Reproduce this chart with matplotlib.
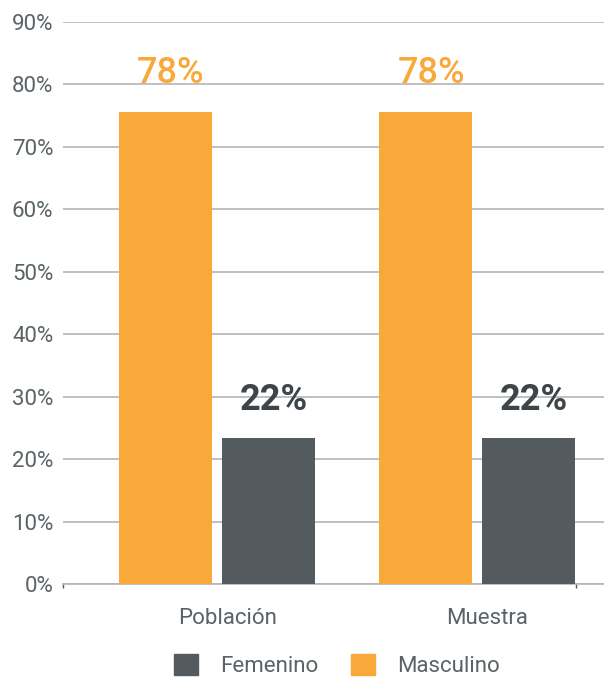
import numpy as np
import matplotlib
matplotlib.use("Agg")
import matplotlib.pyplot as plt
from matplotlib.patches import Patch

# --- Datos ---
categorias = ["Población", "Muestra"]
masculino = [75.6, 75.6]   # altura de barra
femenino = [23.4, 23.4]
etiq_masc = ["78%", "78%"]
etiq_fem = ["22%", "22%"]
yticks = [0, 10, 20, 30, 40, 50, 60, 70, 80, 90]

NARANJA = "#F9A83A"
GRIS = "#535B5E"
TEXTO = "#5A6366"
OSCURO = "#3E4548"

plt.rcParams['font.family'] = ['Roboto', 'DejaVu Sans']

fig = plt.figure(figsize=(6.04, 6.78), dpi=100)
ax = fig.add_axes([0.1043, 0.1386, 0.8957, 0.829])

x = np.arange(len(categorias))
ancho = 0.358
off = 0.197

ax.bar(x - off, masculino, ancho, color=NARANJA, zorder=3)
ax.bar(x + off, femenino, ancho, color=GRIS, zorder=3)

for i in range(len(categorias)):
    ax.text(x[i] - off + 0.02, masculino[i] + 4.7, etiq_masc[i], ha='center', va='baseline',
            fontsize=26, color=NARANJA, fontweight='medium')
    ax.text(x[i] + off + 0.02, femenino[i] + 4.5, etiq_fem[i], ha='center', va='baseline',
            fontsize=26, color=OSCURO, fontweight='bold')

ax.set_xlim(-0.592, 1.488)
ax.set_ylim(0, 90)
ax.set_yticks(yticks)
ax.set_yticklabels([f"{v}%" for v in yticks])
ax.set_xticks(x + 0.04)
ax.set_xticklabels(categorias)
ax.tick_params(axis='y', length=0, pad=7, labelsize=16, labelcolor=TEXTO)
ax.tick_params(axis='x', length=0, pad=17, labelsize=16, labelcolor=TEXTO)
ax.set_xticks([-0.592, 1.381], minor=True)
ax.tick_params(axis='x', which='minor', length=3, color='#555555', width=1)

ax.grid(axis='y', color='#B5B5B5', linewidth=1.2, zorder=0)
for s in ['top', 'right', 'left']:
    ax.spines[s].set_visible(False)
ax.spines['bottom'].set_color('#B5B5B5')
ax.spines['bottom'].set_linewidth(1.2)

handles = [Patch(color=GRIS, label="Femenino"), Patch(color=NARANJA, label="Masculino")]
fig.legend(handles=handles, loc='center', bbox_to_anchor=(0.558, 0.018), ncol=2,
           frameon=False, fontsize=16, handlelength=1.05, handleheight=1.05,
           handletextpad=1.0, columnspacing=1.5, labelcolor=TEXTO)

fig.savefig("out.png", dpi=100)
